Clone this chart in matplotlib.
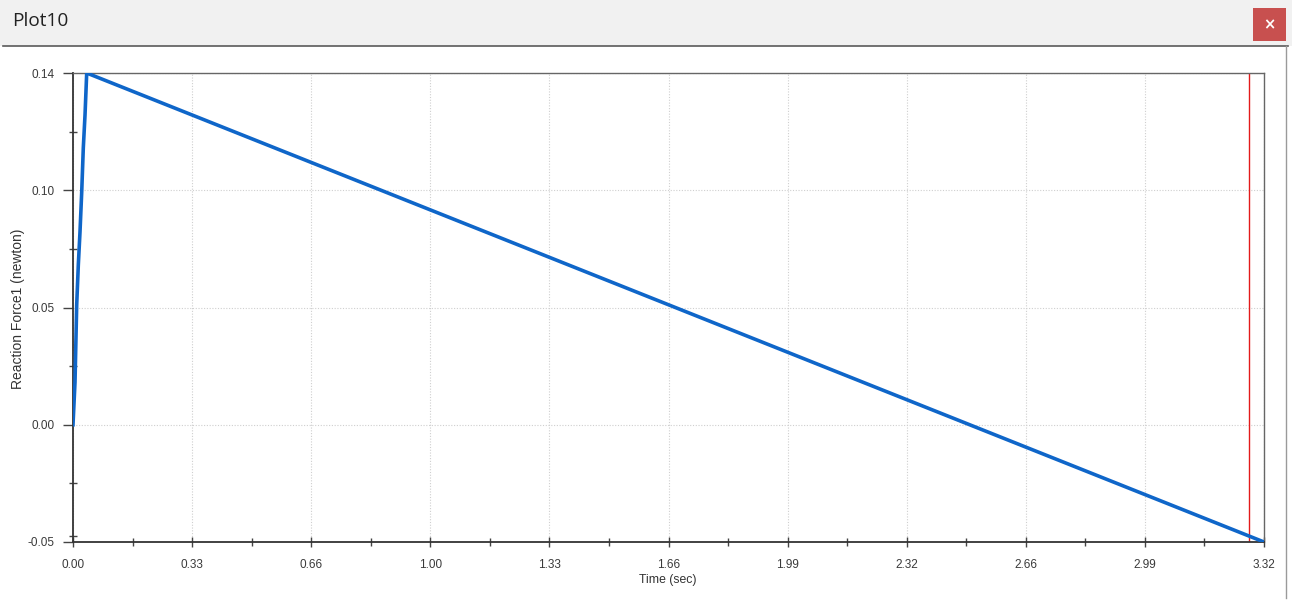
import numpy as np
import matplotlib
matplotlib.use("Agg")
import matplotlib.pyplot as plt
from matplotlib.patches import Rectangle
from matplotlib.lines import Line2D

# ---- data ----
time_s = [0.0, 0.0056, 0.0103, 0.0148, 0.0195, 0.0243, 0.0287, 0.0335, 0.0382, 3.32]
force_n = [-0.0025, 0.0148, 0.046, 0.0622, 0.0756, 0.0918, 0.1096, 0.123, 0.14, -0.05]
cursor_time = 3.278

x_tick_labels = ["0.00", "0.33", "0.66", "1.00", "1.33", "1.66", "1.99", "2.32", "2.66", "2.99", "3.32"]
y_tick_labels = ["-0.05", "0.00", "0.05", "0.10", "0.14"]
x_range = (0.0, 3.32)
y_range = (-0.05, 0.14)

title = "Plot10"
xlabel = "Time (sec)"
ylabel = "Reaction Force1 (newton)"

# ---- figure ----
W, H = 1292, 608
fig = plt.figure(figsize=(W / 100, H / 100), dpi=100)
fig.patch.set_facecolor("white")
plt.rcParams['font.family'] = ['Liberation Sans', 'DejaVu Sans']

def fx(px):
    return px / W

def fy(py):
    return 1 - py / H

# title bar
fig.patches.append(Rectangle((0, fy(46)), 1, 46 / H, transform=fig.transFigure,
                             facecolor="#f1f1f1", edgecolor="none", zorder=0))
fig.lines.append(Line2D([fx(3), fx(1288)], [fy(46), fy(46)], transform=fig.transFigure,
                        color="#5a5a5a", lw=1.2))
fig.lines.append(Line2D([fx(1286), fx(1286)], [fy(46), fy(598)], transform=fig.transFigure,
                        color="#9a9a9a", lw=1.0))
fig.text(fx(12), fy(21), title, fontsize=13.7, color="#222222", va="center", ha="left",
         family=["Open Sans", "DejaVu Sans"])
fig.patches.append(Rectangle((fx(1253), fy(41)), 33 / W, 33 / H, transform=fig.transFigure,
                             facecolor="#c8504f", edgecolor="none"))
fig.text(fx(1269.5), fy(25), "×", fontsize=10.5, color="white", fontweight="bold",
         ha="center", va="center", family=["DejaVu Sans"])

# axes
L, R, T, B = 73, 1264, 73, 542
ax = fig.add_axes([fx(L), fy(B), (R - L) / W, (B - T) / H])
ax.plot(time_s, force_n, color="#0f66c9", lw=2.6, solid_joinstyle="round", zorder=3)
ax.axvline(cursor_time, color="#e31a1a", lw=1.0, zorder=2)

ax.set_xlim(*x_range)
ax.set_ylim(*y_range)
xt = np.linspace(x_range[0], x_range[1], len(x_tick_labels))
yt = np.linspace(y_range[0], y_range[1], len(y_tick_labels))
ax.set_xticks(xt)
ax.set_xticklabels(x_tick_labels)
ax.set_yticks(yt)
ax.set_yticklabels(y_tick_labels)
xm = (xt[:-1] + xt[1:]) / 2
ym = list((yt[:-1] + yt[1:]) / 2) + [yt[0] + (yt[1] - yt[0]) * 0.05]
ax.set_xticks(xm, minor=True)
ax.set_yticks(ym, minor=True)

ax.tick_params(axis="x", which="major", direction="inout", length=7, width=1, color="#444444",
               labelsize=8.5, labelcolor="#3a3a3a", pad=8.5)
ax.tick_params(axis="x", which="minor", direction="inout", length=6, width=1, color="#444444")
ax.tick_params(axis="y", which="major", direction="out", length=7, width=1, color="#444444",
               labelsize=8.5, labelcolor="#3a3a3a", pad=6)
ax.tick_params(axis="y", which="minor", direction="inout", length=6, width=1, color="#444444")

ax.grid(True, which="major", color="#cfcfcf", linestyle=(0, (1, 1.5)), lw=0.8)
ax.set_axisbelow(True)

for s in ["left", "bottom"]:
    ax.spines[s].set_color("#333333")
    ax.spines[s].set_linewidth(1.3)
for s in ["top", "right"]:
    ax.spines[s].set_color("#666666")
    ax.spines[s].set_linewidth(1.0)

fig.text(fx(668), fy(580), xlabel, fontsize=8.8, color="#333333", ha="center", va="center")
fig.text(fx(18), fy(309), ylabel, fontsize=10, color="#333333", ha="center", va="center",
         rotation=90)

fig.savefig("out.png", dpi=100)
